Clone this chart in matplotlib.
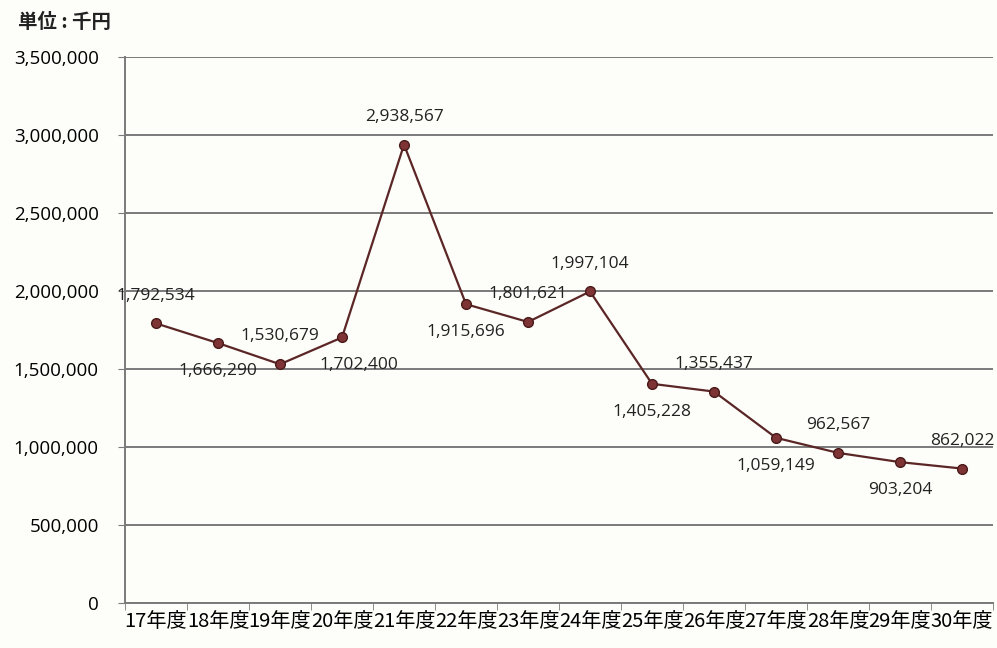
import numpy as np
import matplotlib.pyplot as plt
from matplotlib.ticker import FuncFormatter, FixedLocator

plt.rcParams['font.family'] = ['Noto Sans CJK JP', 'DejaVu Sans']

years = ['17年度', '18年度', '19年度', '20年度', '21年度', '22年度', '23年度',
         '24年度', '25年度', '26年度', '27年度', '28年度', '29年度', '30年度']
values = [1792534, 1666290, 1530679, 1702400, 2938567, 1915696, 1801621,
          1997104, 1405228, 1355437, 1059149, 962567, 903204, 862022]
# +1 = label above the point, -1 = below
label_side = [1, -1, 1, -1, 1, -1, 1, 1, -1, 1, -1, 1, -1, 1]

fig = plt.figure(figsize=(9.97, 6.48), dpi=100)
fig.patch.set_facecolor('#fdfdf9')
ax = fig.add_axes([0.1254, 0.0694, 0.8706, 0.8426])
ax.set_facecolor('#fdfdf9')

x = np.arange(len(years))
ax.plot(x, values, color='#5b2626', linewidth=1.6, marker='o', markersize=7,
        markerfacecolor='#7e3434', markeredgecolor='#4a1a1a', zorder=3)

for xi, v, s in zip(x, values, label_side):
    dx = 12 if xi == 3 else 0
    ax.annotate(f'{v:,}', (xi, v), xytext=(dx, 20 * s), textcoords='offset points',
                ha='center', va='center', fontsize=12.5, color='#222222',
                family=['Open Sans', 'DejaVu Sans'])

ax.set_xlim(-0.5, len(years) - 0.5)
ax.set_ylim(0, 3500000)
ax.set_yticks(np.arange(0, 3500001, 500000))
ax.yaxis.set_major_formatter(FuncFormatter(lambda v, p: f'{int(v):,}'))
ax.grid(axis='y', color='#7a7a7a', linewidth=1.4)
ax.set_axisbelow(True)

ax.set_xticks(x)
ax.set_xticklabels(years, fontsize=14.5)
ax.xaxis.set_minor_locator(FixedLocator(np.arange(-0.5, len(years), 1)))
ax.tick_params(axis='x', which='major', length=0, pad=6)
ax.tick_params(axis='x', which='minor', length=5, color='#7a7a7a')
ax.tick_params(axis='y', length=5, color='#7a7a7a', labelsize=13.5, pad=14)
for lab in ax.get_yticklabels():
    lab.set_family(['Open Sans', 'DejaVu Sans'])

for side in ['top', 'right']:
    ax.spines[side].set_visible(False)
for side in ['left', 'bottom']:
    ax.spines[side].set_color('#7a7a7a')
    ax.spines[side].set_linewidth(1.4)

fig.text(0.018, 0.965, '単位 : 千円', fontsize=14, fontweight='bold', color='#222222',
         va='center')

fig.savefig('out.png', dpi=100, facecolor=fig.get_facecolor())
